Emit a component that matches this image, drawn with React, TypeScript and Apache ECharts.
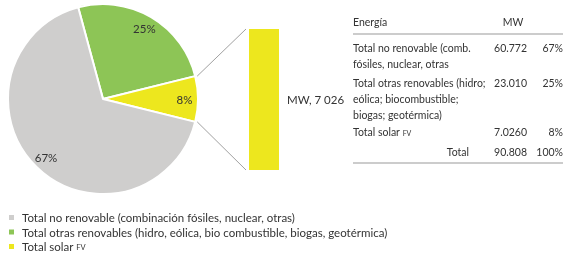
import React, { useEffect, useRef } from "react";
import * as echarts from "echarts";

const legendNames = [
  "Total no renovable (combinación fósiles, nuclear, otras)",
  "Total otras renovables (hidro, eólica, bio combustible, biogas, geotérmica)",
  "Total solar FV",
];
const mwValues = [60772, 23010, 7026];
const pctLabels = ["67%", "25%", "8%"];
const sliceColors = ["#cfcecd", "#8dc556", "#ede71e"];
const barCategories = ["Solar FV"];
const barValues = [7026];
const barLabel = "MW, 7 026";

const tableHeader = ["Energía", "MW"];
const tableLabels = [
  "Total no renovable (comb.\nfósiles, nuclear, otras",
  "Total otras renovables (hidro;\neólica; biocombustible;\nbiogas; geotérmica)",
  "Total solar {fv|FV}",
  "Total",
];
const tableMW = ["60.772", "23.010", "7.0260", "90.808"];
const tablePct = ["67%", "25%", "8%", "100%"];

const FONT = "Lato";
const FS = 11.5;
const TFS = 10.5;
const TXT = "#333333";

export default function App() {
  const ref = useRef<HTMLDivElement>(null);
  useEffect(() => {
    if (!ref.current) return;
    const chart = echarts.init(ref.current, undefined, { renderer: "svg" });
    const cx = 103, cy = 99, R = 95;
    const total = mwValues.reduce((a, b) => a + b, 0);
    const yellowDeg = (mwValues[2] / total) * 360;
    const greenDeg = (mwValues[1] / total) * 360;
    const startAngle = yellowDeg / 2 + greenDeg;
    const order = [1, 2, 0];
    const pieData = order.map((i) => ({
      name: legendNames[i],
      value: mwValues[i],
      itemStyle: { color: sliceColors[i] },
    }));
    const labelData = order.map((i) => ({
      name: legendNames[i] + " ",
      value: mwValues[i],
      label: { formatter: pctLabels[i] },
    }));
    const gLeft = 249, gTop = 29, gW = 30, gH = 141;
    const a = (yellowDeg / 2) * Math.PI / 180;
    const p1 = [cx + R * Math.cos(a), cy - R * Math.sin(a)];
    const p2 = [cx + R * Math.cos(a), cy + R * Math.sin(a)];

    const tx = 353, tRight = 563, mwRight = 527;
    const LH = 16;
    const rowY = [40, 75, 124, 144];
    const font = `${TFS}px ${FONT}`;
    const rich = { fv: { fontSize: 7, fill: TXT, fontFamily: FONT, verticalAlign: "middle", padding: [2, 0, 0, 0] } };
    const tableGraphics: any[] = [
      { type: "text", x: tx, y: 14, style: { text: tableHeader[0], fill: TXT, font, lineHeight: LH } },
      { type: "text", x: 513, y: 14, style: { text: tableHeader[1], fill: TXT, font, lineHeight: LH, align: "center" } },
      { type: "line", shape: { x1: tx, y1: 34, x2: tRight, y2: 34 }, style: { stroke: "#999", lineWidth: 1 } },
      { type: "line", shape: { x1: tx, y1: 163, x2: tRight, y2: 163 }, style: { stroke: "#999", lineWidth: 1 } },
    ];
    tableLabels.forEach((lab, i) => {
      const isTotal = i === tableLabels.length - 1;
      tableGraphics.push({
        type: "text",
        x: isTotal ? 469 : tx,
        y: rowY[i],
        style: { text: lab, fill: TXT, font, lineHeight: LH, align: isTotal ? "right" : "left", rich },
      });
      tableGraphics.push({ type: "text", x: mwRight, y: rowY[i], style: { text: tableMW[i], fill: TXT, font, align: "right", lineHeight: LH } });
      tableGraphics.push({ type: "text", x: tRight, y: rowY[i], style: { text: tablePct[i], fill: TXT, font, align: "right", lineHeight: LH } });
    });

    chart.setOption({
      animation: false,
      textStyle: { fontFamily: FONT },
      legend: {
        orient: "vertical",
        left: 7,
        top: 211,
        padding: 0,
        itemWidth: 7,
        itemHeight: 7,
        itemGap: 1.5,
        icon: "rect",
        data: legendNames,
        textStyle: {
          fontSize: FS,
          lineHeight: 13,
          color: TXT,
          fontFamily: FONT,
          padding: [0, 0, 0, 2],
          rich: { fv: { fontSize: 7.5, color: TXT, fontFamily: FONT, verticalAlign: "middle", padding: [2, 0, 0, 0] } },
        },
        formatter: (n: string) => (n === legendNames[2] ? "Total solar {fv|FV}" : n),
      },
      grid: { left: gLeft, top: gTop, width: gW, height: gH },
      xAxis: { type: "category", data: barCategories, show: false },
      yAxis: { type: "value", min: 0, max: barValues[0], show: false },
      series: [
        {
          type: "pie",
          center: [cx, cy],
          radius: [0, R],
          startAngle,
          clockwise: true,
          data: pieData,
          label: { show: false },
          labelLine: { show: false },
          itemStyle: { borderColor: "#fff", borderWidth: 2 },
          emphasis: { disabled: true },
        },
        {
          type: "pie",
          center: [cx, cy],
          radius: [62, R],
          startAngle,
          clockwise: true,
          data: labelData,
          silent: true,
          itemStyle: { color: "rgba(0,0,0,0)" },
          label: { show: true, position: "inside", fontSize: FS, color: TXT, fontFamily: FONT },
          labelLine: { show: false },
          emphasis: { disabled: true },
        },
        {
          type: "bar",
          data: barValues,
          barWidth: gW,
          itemStyle: { color: sliceColors[2] },
          label: { show: true, position: "right", distance: 8, formatter: barLabel, fontSize: FS, color: TXT, fontFamily: FONT },
          emphasis: { disabled: true },
        },
      ],
      graphic: [
        { type: "line", shape: { x1: p1[0] + 2, y1: p1[1], x2: gLeft - 3, y2: gTop }, style: { stroke: "#888", lineWidth: 0.8 } },
        { type: "line", shape: { x1: p2[0] + 2, y1: p2[1], x2: gLeft - 3, y2: gTop + gH }, style: { stroke: "#888", lineWidth: 0.8 } },
        ...tableGraphics,
      ],
    });
    return () => chart.dispose();
  }, []);
  return <div ref={ref} style={{ position: "fixed", left: 0, top: 0, width: 570, height: 255 }} />;
}
